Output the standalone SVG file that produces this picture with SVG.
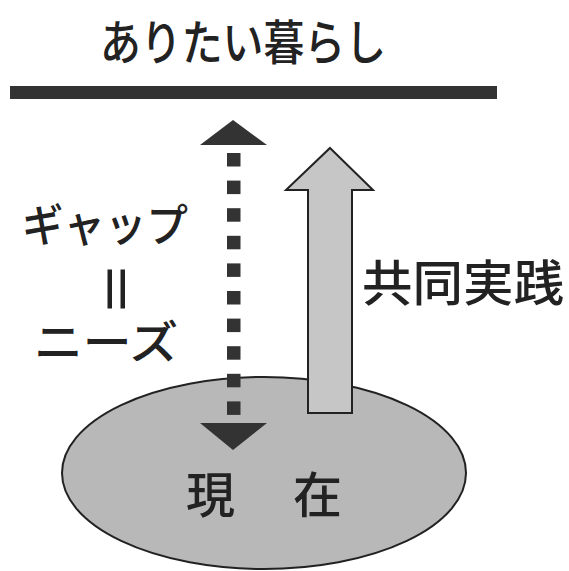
<svg xmlns="http://www.w3.org/2000/svg" width="569" height="571" viewBox="0 0 569 571">
<style>
.t{font-family:"Noto Sans CJK JP","Noto Sans",sans-serif;fill:#222;font-weight:500;}
.dk{fill:#333;}
</style>
<rect width="569" height="571" fill="#ffffff"/>
<g id="goal">
<text class="t" x="100" y="60" font-size="48" textLength="286" lengthAdjust="spacingAndGlyphs">ありたい暮らし</text>
<rect x="10" y="86" width="487" height="13" class="dk"/>
</g>
<g id="current">
<ellipse cx="264" cy="473" rx="202" ry="96" fill="#b8b8b8" stroke="#222" stroke-width="2"/>
<text class="t" x="186" y="513" font-size="49">現</text>
<text class="t" x="293" y="513" font-size="49">在</text>
</g>
<g id="gap-label">
<text class="t" x="22" y="242" font-size="45" textLength="166" lengthAdjust="spacingAndGlyphs">ギャップ</text>
<text class="t" x="0" y="0" font-size="54" font-weight="bold" text-anchor="middle" transform="translate(115 289) rotate(90)" dy="20">＝</text>
<text class="t" x="34" y="359" font-size="45" textLength="144" lengthAdjust="spacingAndGlyphs">ニーズ</text>
</g>
<g id="practice-label">
<text class="t" x="362" y="301" font-size="49" textLength="202" lengthAdjust="spacingAndGlyphs">共同実践</text>
</g>
<g id="connectors">
<g id="gap-arrow" class="dk">
<polygon points="233,120 267,145 200,145"/>
<rect x="227" y="153" width="13.5" height="13.5"/>
<rect x="227" y="180.6" width="13.5" height="13.5"/>
<rect x="227" y="208.2" width="13.5" height="13.5"/>
<rect x="227" y="235.8" width="13.5" height="13.5"/>
<rect x="227" y="263.4" width="13.5" height="13.5"/>
<rect x="227" y="291" width="13.5" height="13.5"/>
<rect x="227" y="318.6" width="13.5" height="13.5"/>
<rect x="227" y="346.2" width="13.5" height="13.5"/>
<rect x="227" y="373.8" width="13.5" height="13.5"/>
<rect x="227" y="401.4" width="13.5" height="13.5"/>
<polygon points="200,423 267,423 233,450"/>
</g>
<polygon id="practice-arrow" points="330,148 373,190 352,190 352,413 308,413 308,190 286,190" fill="#c6c6c6" stroke="#222" stroke-width="2" stroke-linejoin="miter"/>
</g>
</svg>
